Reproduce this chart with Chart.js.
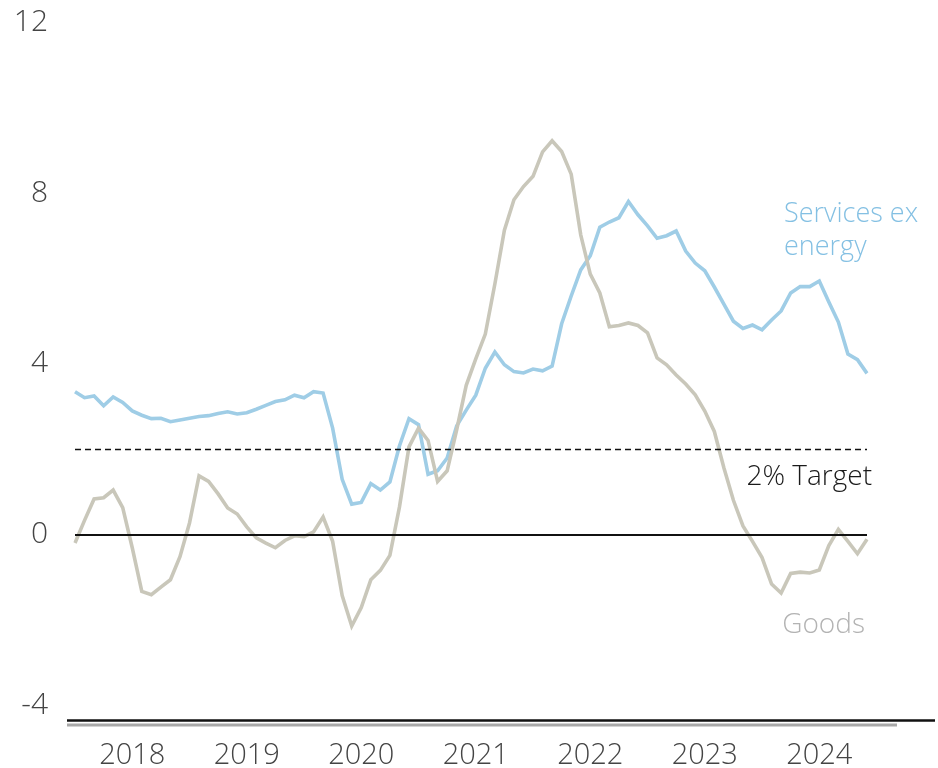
<!DOCTYPE html>
<html>
<head>
<meta charset="utf-8">
<script src="https://cdn.jsdelivr.net/npm/chart.js@4.4.1/dist/chart.umd.min.js"></script>
<style>
  html, body { margin: 0; padding: 0; background: #fff; }
</style>
</head>
<body>
<canvas id="chart" width="938" height="768"></canvas>
<script>
/* ---------- DATA ---------- */
const years = ["2018", "2019", "2020", "2021", "2022", "2023", "2024"];
const monthNames = ["Jan","Feb","Mar","Apr","May","Jun","Jul","Aug","Sep","Oct","Nov","Dec"];
const categories = years.flatMap(y => monthNames.map(m => `${m} ${y}`));

// Services ex energy, % y/y
const servicesExEnergy = [
  3.35, 3.21, 3.25, 3.02, 3.23, 3.10, 2.90, 2.80, 2.72, 2.73, 2.65, 2.69,
  2.73, 2.77, 2.79, 2.84, 2.88, 2.83, 2.86, 2.94, 3.03, 3.12, 3.16, 3.27,
  3.21, 3.35, 3.32, 2.50, 1.30, 0.72, 0.76, 1.20, 1.05, 1.24, 2.08, 2.72,
  2.58, 1.42, 1.50, 1.80, 2.55, 2.92, 3.27, 3.90, 4.28, 3.98, 3.82, 3.79,
  3.88, 3.84, 3.95, 4.94, 5.59, 6.20, 6.53, 7.20, 7.32, 7.42, 7.80, 7.49,
  7.23, 6.94, 7.00, 7.11, 6.64, 6.36, 6.18, 5.80, 5.40, 5.00, 4.83, 4.91,
  4.80, 5.03, 5.24, 5.66, 5.81, 5.81, 5.94, 5.45, 4.98, 4.23, 4.10, 3.78
];

// Goods, % y/y
const goods = [
  -0.19, 0.34, 0.84, 0.87, 1.05, 0.64, -0.30, -1.32, -1.40, -1.22, -1.05, -0.51,
  0.28, 1.38, 1.25, 0.96, 0.63, 0.49, 0.19, -0.07, -0.19, -0.30, -0.13, -0.02,
  -0.04, 0.07, 0.42, -0.15, -1.42, -2.13, -1.70, -1.05, -0.83, -0.48, 0.65, 2.06,
  2.50, 2.21, 1.25, 1.50, 2.46, 3.50, 4.12, 4.70, 5.87, 7.13, 7.84, 8.15,
  8.39, 8.96, 9.22, 8.97, 8.44, 7.02, 6.10, 5.66, 4.87, 4.90, 4.96, 4.90,
  4.73, 4.14, 3.98, 3.74, 3.53, 3.28, 2.90, 2.42, 1.57, 0.81, 0.21, -0.15,
  -0.53, -1.15, -1.36, -0.90, -0.87, -0.89, -0.82, -0.25, 0.13, -0.15, -0.44, -0.10
];

const yTicks = [-4, 0, 4, 8, 12];
const TARGET = 2;

/* ---------- STYLE ---------- */
const FONT = "'Open Sans', 'Noto Sans', sans-serif";
const BLUE = "#9fcde6";
const GREY = "#c9c7ba";

/* ---------- DECORATION PLUGIN ---------- */
const decor = {
  id: "decor",
  afterDatasetsDraw(chart){
    const { ctx, chartArea: a, scales: { y } } = chart;
    ctx.save();
    // zero line
    const y0 = y.getPixelForValue(0);
    ctx.strokeStyle = "#111"; ctx.lineWidth = 2;
    ctx.beginPath(); ctx.moveTo(a.left, y0); ctx.lineTo(a.right, y0); ctx.stroke();
    // 2% target
    const yt = y.getPixelForValue(TARGET);
    ctx.setLineDash([6, 4]); ctx.lineWidth = 1.6;
    ctx.beginPath(); ctx.moveTo(a.left, yt); ctx.lineTo(a.right, yt); ctx.stroke();
    ctx.restore();
  },
  afterDraw(chart){
    const { ctx, chartArea: a, scales: { y } } = chart;
    ctx.save();
    // double rule under the plot
    ctx.strokeStyle = "#111"; ctx.lineWidth = 2.4;
    ctx.beginPath(); ctx.moveTo(a.left - 8, a.bottom + 0.5); ctx.lineTo(chart.width - 3, a.bottom + 0.5); ctx.stroke();
    ctx.strokeStyle = "#a8a8a8"; ctx.lineWidth = 3;
    ctx.beginPath(); ctx.moveTo(a.left - 8, a.bottom + 5); ctx.lineTo(a.right + 30, a.bottom + 5); ctx.stroke();

    // labels
    ctx.textBaseline = "alphabetic";
    ctx.font = `300 27px ${FONT}`;
    ctx.fillStyle = "#84c0e3";
    ctx.textAlign = "left";
    ctx.fillText("Services ex", 784, 222);
    ctx.fillText("energy", 784, 255);

    ctx.font = `300 28px ${FONT}`;
    ctx.fillStyle = "#1a1a1a";
    ctx.textAlign = "right";
    ctx.fillText("2% Target", 872, y.getPixelForValue(TARGET) + 36);

    ctx.fillStyle = "#b3b3b3";
    ctx.fillText("Goods", 865, 633);
    ctx.restore();
  }
};

/* ---------- CHART ---------- */
const ctx = document.getElementById("chart").getContext("2d");
new Chart(ctx, {
  type: "line",
  data: {
    labels: categories,
    datasets: [
      { label: "Goods", data: goods, borderColor: GREY, borderWidth: 3.6, pointRadius: 0, tension: 0 },
      { label: "Services ex energy", data: servicesExEnergy, borderColor: BLUE, borderWidth: 3.6, pointRadius: 0, tension: 0 }
    ]
  },
  options: {
    responsive: false,
    animation: false,
    layout: { padding: { left: 0, right: 71, top: 22, bottom: 0 } },
    plugins: { legend: { display: false }, tooltip: { enabled: false } },
    scales: {
      x: {
        grid: { display: false, drawTicks: false },
        border: { display: false },
        ticks: {
          autoSkip: false, maxRotation: 0, padding: 18,
          color: "#444", font: { family: FONT, size: 29, weight: 300 },
          callback: (v, i) => categories[i].startsWith("Jul") ? categories[i].slice(4) : ""
        },
        afterFit: s => { s.height = 48; s.paddingLeft = 0; s.paddingRight = 0; }
      },
      y: {
        min: -4.33, max: 12,
        grid: { display: false, drawTicks: false },
        border: { display: false },
        afterBuildTicks: s => { s.ticks = yTicks.map(v => ({ value: v })); },
        ticks: { padding: 27, color: "#444", font: { family: FONT, size: 30, weight: 300 } },
        afterFit: s => { s.width = 75; s.paddingTop = 0; s.paddingBottom = 0; }
      }
    }
  },
  plugins: [decor]
});
</script>
</body>
</html>
